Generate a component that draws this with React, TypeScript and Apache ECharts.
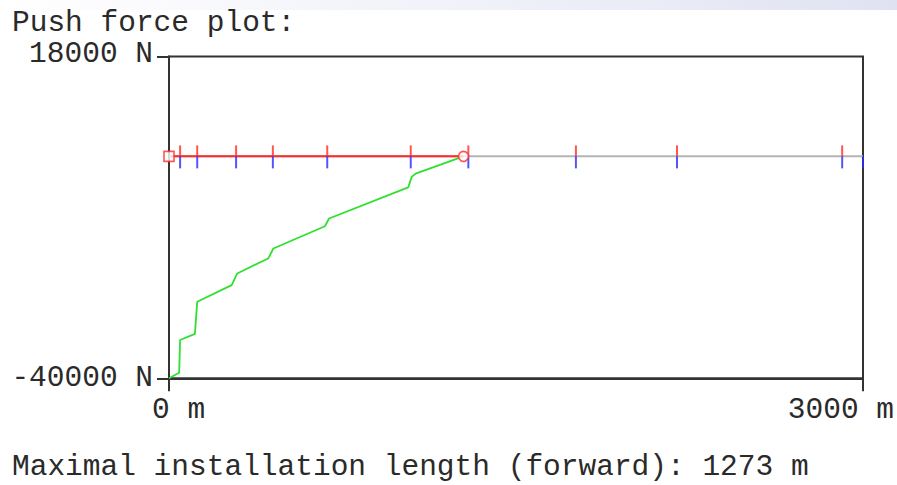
import React, { useEffect, useRef } from "react";
import * as echarts from "echarts";

// Axis ranges and tick labels
const xRange = [0, 3000];
const yRange = [-40000, 18000];
const xTickLabels = ["0 m", "3000 m"];
const yTickLabels = ["18000 N", "-40000 N"];
const titleText = "Push force plot:";
const footerText = "Maximal installation length (forward): 1273 m";

// Installation length reached (red line)
const maxLength = 1273;

// Route point markers on the zero line (m)
const redTickX = [48, 122, 290, 449, 684, 1045, 1294, 1759, 2196, 2910];
const blueTickX = [48, 122, 290, 449, 684, 1045, 1294, 1759, 2196, 2910, 3000];

// Push force curve (green)
const forceX = [0, 44, 48, 112, 122, 271, 295, 429, 451, 674, 692, 1034, 1049, 1066, 1273];
const forceY = [-40000, -39000, -33100, -32000, -26200, -23200, -21100, -18400, -16600, -12600, -11200, -5600, -3700, -3100, 0];

const FONT = "'Liberation Mono', 'Courier New', monospace";
const FS = 29.5;
const TXT = "#2a2a2a";

export default function App() {
  const ref = useRef<HTMLDivElement>(null);
  useEffect(() => {
    if (!ref.current) return;
    const chart = echarts.init(ref.current, null, { renderer: "svg" });
    const textStyle = (text: string, extra: any = {}) => ({
      text,
      fill: TXT,
      font: `${FS}px ${FONT}`,
      verticalAlign: "middle",
      ...extra,
    });
    chart.setOption({
      animation: false,
      backgroundColor: "#ffffff",
      grid: {
        left: 169,
        right: 34,
        top: 56.5,
        bottom: 106.7,
        show: true,
        borderColor: "#333",
        borderWidth: 2,
        backgroundColor: "transparent",
      },
      xAxis: {
        type: "value",
        min: xRange[0],
        max: xRange[1],
        axisLine: { show: true, onZero: false, lineStyle: { color: "#333", width: 2 } },
        axisTick: { show: true, length: 13, customValues: [xRange[0], xRange[1]], lineStyle: { color: "#333", width: 2 } },
        axisLabel: { show: false },
        splitLine: { show: false },
      },
      yAxis: {
        type: "value",
        min: yRange[0],
        max: yRange[1],
        axisLine: { show: true, onZero: false, lineStyle: { color: "#333", width: 2 } },
        axisTick: { show: true, length: 12, customValues: [yRange[0], yRange[1]], lineStyle: { color: "#333", width: 2 } },
        axisLabel: { show: false },
        splitLine: { show: false },
      },
      graphic: [
        {
          type: "rect",
          shape: { x: 0, y: 0, width: 897, height: 10 },
          style: {
            fill: new echarts.graphic.LinearGradient(0, 0, 1, 0, [
              { offset: 0, color: "rgba(232,234,246,0)" },
              { offset: 0.4, color: "rgba(232,234,246,0.5)" },
              { offset: 1, color: "#dfe2f1" },
            ]),
          },
          silent: true,
        },
        { type: "text", left: 12, top: 8, style: textStyle(titleText, { verticalAlign: "top" }) },
        { type: "text", x: 153, y: 54, style: textStyle(yTickLabels[0], { align: "right" }) },
        { type: "text", x: 153, y: 378, style: textStyle(yTickLabels[1], { align: "right" }) },
        { type: "text", x: 152, y: 410, style: textStyle(xTickLabels[0], { align: "left" }) },
        { type: "text", x: 894, y: 410, style: textStyle(xTickLabels[1], { align: "right" }) },
        { type: "text", x: 12, y: 467, style: textStyle(footerText, { align: "left" }) },
      ],
      series: [
        {
          type: "line",
          data: [[xRange[0], 0], [xRange[1], 0]],
          symbol: "none",
          lineStyle: { color: "#b4b4b4", width: 2 },
          z: 2,
        },
        {
          type: "line",
          data: forceX.map((x, i) => [x, forceY[i]]),
          symbol: "none",
          lineStyle: { color: "#2fe02f", width: 1.8 },
          z: 3,
        },
        {
          type: "line",
          data: [[0, 0], [maxLength, 0]],
          symbol: "none",
          lineStyle: { color: "#ff2a2a", width: 2 },
          z: 4,
        },
        {
          type: "scatter",
          data: redTickX.map((x) => [x, 0]),
          symbol: "rect",
          symbolSize: [2, 11],
          symbolOffset: [0, -5.5],
          itemStyle: { color: "#ff2a2a" },
          z: 5,
        },
        {
          type: "scatter",
          data: blueTickX.map((x) => [x, 0]),
          symbol: "rect",
          symbolSize: [2, 12],
          symbolOffset: [0, 6],
          itemStyle: { color: "#2a2aff" },
          z: 5,
        },
        {
          type: "scatter",
          data: [[0, 0]],
          symbol: "rect",
          symbolSize: 10,
          itemStyle: { color: "#ffffff", borderColor: "#ff2a2a", borderWidth: 1.6 },
          z: 6,
        },
        {
          type: "scatter",
          data: [[maxLength, 0]],
          symbol: "circle",
          symbolSize: 10,
          itemStyle: { color: "#ffffff", borderColor: "#ff2a2a", borderWidth: 1.6 },
          z: 6,
        },
      ],
    });
    return () => chart.dispose();
  }, []);
  return (
    <div
      ref={ref}
      style={{ position: "fixed", left: 0, top: 0, width: 897, height: 485, background: "#fff" }}
    />
  );
}
